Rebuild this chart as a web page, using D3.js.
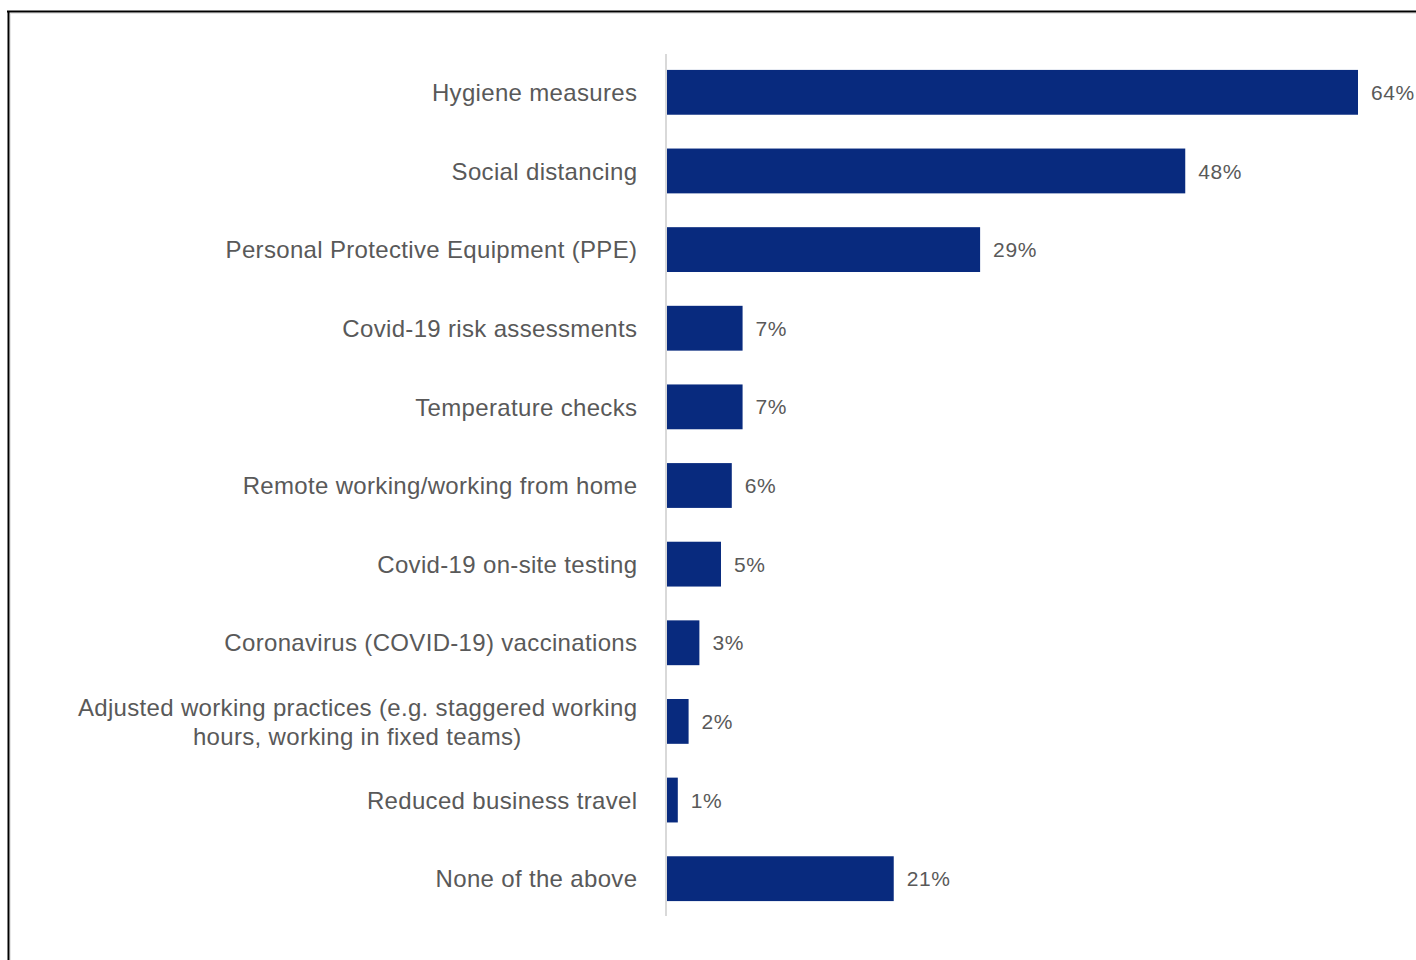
<!DOCTYPE html>
<html>
<head>
<meta charset="utf-8">
<script src="https://cdn.jsdelivr.net/npm/d3@7/dist/d3.min.js"></script>
<style>
  html, body { margin: 0; padding: 0; background: #fff; }
  svg { display: block; }
  text { font-family: "Liberation Sans", Arial, sans-serif; fill: #595959; }
</style>
</head>
<body>
<svg id="chart" width="1416" height="960"></svg>
<script>
// Workplace Covid-19 measures, share of respondents (%)
const categories = [
  "Hygiene measures",
  "Social distancing",
  "Personal Protective Equipment (PPE)",
  "Covid-19 risk assessments",
  "Temperature checks",
  "Remote working/working from home",
  "Covid-19 on-site testing",
  "Coronavirus (COVID-19) vaccinations",
  ["Adjusted working practices (e.g. staggered working", "hours, working in fixed teams)"],
  "Reduced business travel",
  "None of the above"
];
const values = [64, 48, 29, 7, 7, 6, 5, 3, 2, 1, 21];
const valueLabels = values.map(v => v + "%");

const svg = d3.select("#chart");

// Frame around the chart area
svg.append("line").attr("x1", 9).attr("x2", 1416).attr("y1", 13.5).attr("y2", 13.5)
  .attr("stroke", "#e6e6e6").attr("stroke-width", 1);
svg.append("line").attr("x1", 10.5).attr("x2", 10.5).attr("y1", 13).attr("y2", 960)
  .attr("stroke", "#e6e6e6").attr("stroke-width", 1);
svg.append("line").attr("x1", 7).attr("x2", 1416).attr("y1", 11.5).attr("y2", 11.5)
  .attr("stroke", "#000").attr("stroke-width", 2);
svg.append("line").attr("x1", 8.5).attr("x2", 8.5).attr("y1", 11).attr("y2", 960)
  .attr("stroke", "#000").attr("stroke-width", 2);

const idx = d3.range(categories.length);

const y = d3.scaleBand()
  .domain(idx)
  .range([53, 918])
  .paddingInner(0.43)
  .paddingOuter(0.215);

const x = d3.scaleLinear()
  .domain([0, d3.max(values)])
  .range([667, 1358]);

// Category axis line
svg.append("line")
  .attr("x1", 666).attr("x2", 666)
  .attr("y1", 54).attr("y2", 916)
  .attr("stroke", "#d9d9d9").attr("stroke-width", 2);

// Bars
svg.append("g").selectAll("rect")
  .data(idx)
  .join("rect")
  .attr("x", x(0))
  .attr("y", i => y(i))
  .attr("width", i => x(values[i]) - x(0))
  .attr("height", y.bandwidth())
  .attr("fill", "#082a7e");

// Value labels
svg.append("g").selectAll("text")
  .data(idx)
  .join("text")
  .attr("x", i => x(values[i]) + 13)
  .attr("y", i => y(i) + y.bandwidth() / 2)
  .attr("dy", "0.36em")
  .attr("font-size", 21)
  .attr("letter-spacing", 0.6)
  .text(i => valueLabels[i]);

// Category labels (right-aligned; wrapped lines centred under the first)
const labelX = 637;
const ls = 0.33;
const lg = svg.append("g");
idx.forEach(i => {
  const cy = y(i) + y.bandwidth() / 2;
  const c = categories[i];
  if (Array.isArray(c)) {
    const lh = 29;
    const first = lg.append("text")
      .attr("x", labelX + ls)
      .attr("y", cy - lh / 2)
      .attr("dy", "0.36em")
      .attr("text-anchor", "end")
      .attr("font-size", 24)
      .attr("letter-spacing", ls)
      .text(c[0]);
    const w = first.node().getComputedTextLength();
    c.slice(1).forEach((line, k) => {
      lg.append("text")
        .attr("x", labelX - w / 2)
        .attr("y", cy - lh / 2 + lh * (k + 1))
        .attr("dy", "0.36em")
        .attr("text-anchor", "middle")
        .attr("font-size", 24)
        .attr("letter-spacing", ls)
        .text(line);
    });
  } else {
    lg.append("text")
      .attr("x", labelX + ls)
      .attr("y", cy)
      .attr("dy", "0.36em")
      .attr("text-anchor", "end")
      .attr("font-size", 24)
      .attr("letter-spacing", ls)
      .text(c);
  }
});
</script>
</body>
</html>
